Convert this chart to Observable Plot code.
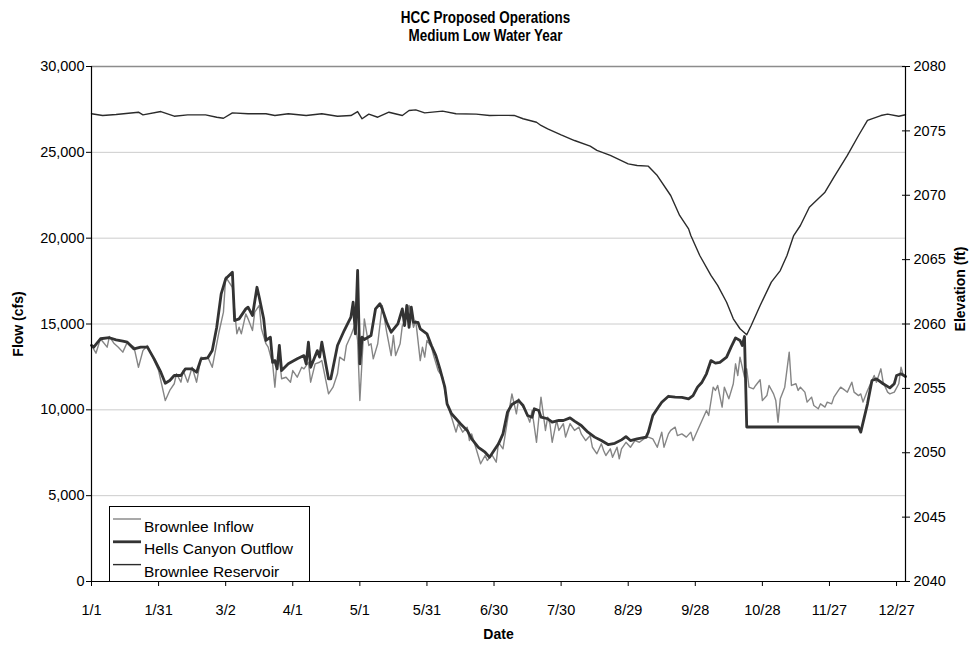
<!DOCTYPE html>
<html>
<head>
<meta charset="utf-8">
<script src="https://cdn.jsdelivr.net/npm/d3@7"></script>
<script src="https://cdn.jsdelivr.net/npm/@observablehq/plot@0.6"></script>
<style>
  body { margin: 0; background: #fff; font-family: "Liberation Sans", Arial, sans-serif; }
  #wrap { position: relative; width: 971px; height: 649px; overflow: hidden; background: #fff; }
  #title { position: absolute; top: 9px; left: 0; width: 971px; text-align: center; font-weight: bold; font-size: 16px; line-height: 18px; color: #000; transform: scaleX(0.84); transform-origin: 485.5px 0; }
  #chart { position: absolute; top: 50px; left: 0; }
  #legend { position: absolute; left: 109px; top: 506px; width: 199px; height: 74px; border: 1px solid #000; background: #fff; }
</style>
</head>
<body>
<div id="wrap">
  <div id="title">HCC Proposed Operations<br>Medium Low Water Year</div>
  <div id="chart"></div>
  <div id="legend"></div>
</div>
<script>
// ---- Data (day of year index: 0 = 1/1) ----
const xTickDays   = [0, 30, 60, 90, 120, 150, 180, 210, 240, 270, 300, 330, 360];
const xTickLabels = ["1/1","1/31","3/2","4/1","5/1","5/31","6/30","7/30","8/29","9/28","10/28","11/27","12/27"];
const flowTicks   = [0, 5000, 10000, 15000, 20000, 25000, 30000];
const elevTickLabels = ["2040","2045","2050","2055","2060","2065","2070","2075","2080"];

const seriesNames = ["Brownlee Inflow", "Hells Canyon Outflow", "Brownlee Reservoir"];

const inflowDay = [0,2,4,7,8,10,12,14,16,19,21,23,25,28,30,33,35,37,38,40,41,43,45,47,49,51,52,54,57,59,60,62,63,65,66,67,69,70,72,73,75,76,78,79,81,82,83,84,85,87,89,90,92,94,95,97,98,100,102,103,106,108,110,111,113,114,116,118,119,120,122,124,125,126,128,130,132,134,135,136,138,139,141,142,144,145,147,148,149,150,152,153,155,157,159,161,163,164,166,168,169,170,172,174,176,177,179,181,182,184,186,188,189,190,191,193,194,196,197,199,200,201,203,204,205,206,208,209,211,212,214,216,218,219,221,223,224,226,228,229,230,232,233,235,236,237,239,241,243,245,247,249,251,253,255,256,258,259,261,262,264,266,268,269,271,273,275,276,278,279,280,282,283,285,287,288,289,290,292,293,294,296,297,299,300,302,303,305,306,307,308,310,312,313,315,316,317,319,320,322,323,325,326,328,329,331,332,334,335,337,338,340,341,343,344,345,347,348,350,351,353,354,356,357,359,361,362,363,364];
const inflowCfs = [13750,13300,14140,13650,14270,13880,13650,13360,13940,13650,12480,13450,13750,12870,12290,10540,11130,11520,12100,11610,12290,11610,12480,11610,13070,12970,13070,12480,14520,15690,17730,17340,17140,14430,14810,14430,15590,15300,14620,15690,16080,14720,13850,13650,12680,11320,12870,13070,11810,11900,11610,12290,11900,12480,12390,12770,11610,12680,12770,12870,10930,11320,12100,13070,12870,13750,14330,15010,14040,10540,15300,13750,13850,12970,13850,16080,14520,13160,14330,13160,13850,14910,15400,16080,14810,15200,12870,13650,13070,14040,13650,13160,12290,11900,10350,9570,8700,9190,8700,8990,8210,8600,7730,6860,7340,7050,7390,6950,8110,7730,9380,10930,10350,9770,10640,10160,9960,9280,9960,8110,9480,10740,8800,9570,9190,8110,9380,8800,9190,8410,9190,8800,8990,8600,8210,8500,7820,7440,8020,7630,7340,7730,7240,7820,7150,7730,8110,7820,8210,8110,8310,8410,8310,7820,8700,7820,8600,8800,8990,8500,8600,8410,8700,8210,8800,9380,9960,9670,11320,11130,11420,10160,11320,10640,11520,12680,12000,13070,11900,12390,11320,11220,11420,11750,10540,10830,11420,10930,10540,9280,10640,11320,13360,11420,11520,11130,11320,11030,10450,10740,10250,10060,10350,10160,10450,10350,10740,11130,11320,11130,11030,11610,11030,10830,10930,10450,11130,11420,12000,11610,12390,11610,11030,10930,11030,11520,12480,12000,11900];

const outflowDay = [0,1,4,8,11,14,16,19,22,25,28,31,33,35,37,40,42,45,47,49,52,54,56,58,60,63,64,66,69,70,72,74,75,77,78,80,81,82,83,84,85,88,92,95,96,97,98,101,102,103,106,107,110,113,116,117,118,119,120,121,122,125,127,129,130,132,134,137,139,140,141,142,143,144,146,147,150,152,154,156,158,159,161,165,168,170,173,176,178,180,182,184,186,188,191,193,195,197,198,200,201,204,206,209,211,214,216,219,222,225,228,231,234,237,239,241,244,248,249,251,253,255,258,261,264,267,269,271,273,275,277,279,281,284,286,288,290,291,292,293,343,344,347,349,351,354,357,359,360,362,364];
const outflowCfs = [13750,13650,14140,14200,14080,14000,13940,13550,13650,13650,12970,12190,11550,11710,12000,12000,12390,12390,12190,12970,13030,13450,14810,16760,17630,18020,15200,15300,15880,15980,15490,17140,16560,15300,14040,14230,12770,12870,12390,13750,12290,12680,12970,13160,12680,13940,12480,13450,13070,13940,11800,11800,13750,14620,15400,16270,14430,18120,12680,14230,14100,14330,15880,16180,15880,15100,14520,15010,15880,14910,16080,14810,15980,15100,15100,14720,14430,13750,13160,12290,11320,10350,9770,9190,8800,8310,7820,7530,7240,7630,8020,8600,9860,10310,10540,10250,9670,9570,10060,9960,9570,9480,9280,9380,9380,9530,9340,9090,8700,8410,8210,7980,8050,8250,8440,8210,8310,8410,8700,9670,10060,10440,10790,10740,10720,10640,10830,11320,11610,12100,12870,12720,12770,13070,13650,14190,14040,13750,14270,9000,9000,8700,10350,11710,11800,11520,11280,11520,12000,12100,11940];

const reservoirDay = [0,5,11,21,23,31,37,43,51,56,59,63,70,78,82,88,96,103,110,116,119,121,124,128,133,139,142,145,149,157,163,172,178,182,189,193,199,201,204,210,216,223,226,232,240,244,249,253,259,263,267,268,272,277,280,284,287,290,293,295,299,304,308,311,314,317,321,328,332,338,343,347,353,356,361,364];
const reservoirFt = [2076.33,2076.19,2076.27,2076.45,2076.24,2076.50,2076.14,2076.24,2076.24,2076.06,2075.98,2076.40,2076.33,2076.33,2076.19,2076.33,2076.19,2076.33,2076.14,2076.19,2076.50,2075.94,2076.30,2076.06,2076.45,2076.19,2076.58,2076.63,2076.40,2076.53,2076.33,2076.30,2076.19,2076.20,2076.20,2075.94,2075.67,2075.42,2075.16,2074.69,2074.25,2073.81,2073.48,2073.09,2072.44,2072.31,2072.26,2071.53,2069.98,2068.43,2067.39,2066.87,2065.32,2063.77,2063.00,2061.69,2060.40,2059.63,2059.16,2059.88,2061.44,2063.25,2064.15,2065.32,2066.87,2067.65,2069.07,2070.24,2071.40,2073.09,2074.64,2075.81,2076.19,2076.30,2076.14,2076.25];

// ---- Build tables ----
const elevMin = 2040, elevMax = 2080, flowMax = 30000;
const elevToFlow = e => (e - elevMin) * flowMax / (elevMax - elevMin);

const inflow = inflowDay.map((d, i) => ({day: d, v: inflowCfs[i]}));
const outflow = outflowDay.map((d, i) => ({day: d, v: outflowCfs[i]}));
const reservoir = reservoirDay.map((d, i) => ({day: d, v: elevToFlow(reservoirFt[i])}));
const xLabelMap = new Map(xTickDays.map((d, i) => [d, xTickLabels[i]]));
const elevTicks = elevTickLabels.map(s => elevToFlow(+s));
const elevLabelMap = new Map(elevTicks.map((t, i) => [t, elevTickLabels[i]]));

const font = "'Liberation Sans', Arial, sans-serif";

const chart = Plot.plot({
  width: 971,
  height: 599,
  marginTop: 16,
  marginBottom: 68,
  marginLeft: 91,
  marginRight: 66,
  style: {fontFamily: font, fontSize: "14.5px", color: "#000", background: "#fff", overflow: "visible"},
  x: {domain: [0, 364]},
  y: {domain: [0, flowMax]},
  marks: [
    Plot.ruleY(flowTicks.filter(t => t > 0 && t < flowMax), {stroke: "#cccccc", strokeWidth: 1}),
    Plot.ruleY([flowMax], {stroke: "#8c8c8c", strokeWidth: 1.6}),
    Plot.line(inflow, {x: "day", y: "v", stroke: "#858585", strokeWidth: 1.4}),
    Plot.line(outflow, {x: "day", y: "v", stroke: "#333333", strokeWidth: 2.8, strokeLinejoin: "round"}),
    Plot.line(reservoir, {x: "day", y: "v", stroke: "#2b2b2b", strokeWidth: 1.4}),
    Plot.axisY({ticks: flowTicks, tickFormat: d3.format(","), tickSize: 5, tickPadding: 2, label: null}),
    Plot.axisY({anchor: "right", ticks: elevTicks, tickFormat: d => elevLabelMap.get(d), tickSize: 4, tickPadding: 4, label: null}),
    Plot.axisY({anchor: "right", ticks: elevTicks, tickFormat: () => "", tickSize: -4, label: null}),
    Plot.axisX({ticks: xTickDays, tickFormat: d => xLabelMap.get(d), tickSize: 5, tickPadding: 18, label: null}),
    Plot.ruleX([0], {stroke: "#000", strokeWidth: 1.2}),
    Plot.ruleX([364], {stroke: "#000", strokeWidth: 1.2}),
    Plot.ruleY([0], {stroke: "#000", strokeWidth: 1.2}),
    Plot.text(["Flow (cfs)"], {frameAnchor: "left", textAnchor: "middle", dx: -73, rotate: -90, fontWeight: "bold", fontSize: 14}),
    Plot.text(["Elevation (ft)"], {frameAnchor: "right", textAnchor: "middle", dx: 55, dy: -35, rotate: -90, fontWeight: "bold", fontSize: 14}),
    Plot.text(["Date"], {frameAnchor: "bottom", textAnchor: "middle", dy: 57, fontWeight: "bold", fontSize: 14})
  ]
});
document.getElementById("chart").appendChild(chart);

// ---- Legend ----
const legendStyles = [
  {stroke: "#858585", width: 1.4},
  {stroke: "#333333", width: 2.8},
  {stroke: "#2b2b2b", width: 1.4}
];
const lg = d3.select("#legend").append("svg").attr("width", 199).attr("height", 74);
seriesNames.forEach((name, i) => {
  const yLine = 12 + i * 22.8;
  lg.append("line").attr("x1", 3).attr("x2", 31).attr("y1", yLine).attr("y2", yLine)
    .attr("stroke", legendStyles[i].stroke).attr("stroke-width", legendStyles[i].width);
  lg.append("text").attr("x", 34).attr("y", yLine + 7).attr("dominant-baseline", "central")
    .attr("font-family", font).attr("font-size", 15.5).attr("fill", "#000").text(name);
});
</script>
</body>
</html>
